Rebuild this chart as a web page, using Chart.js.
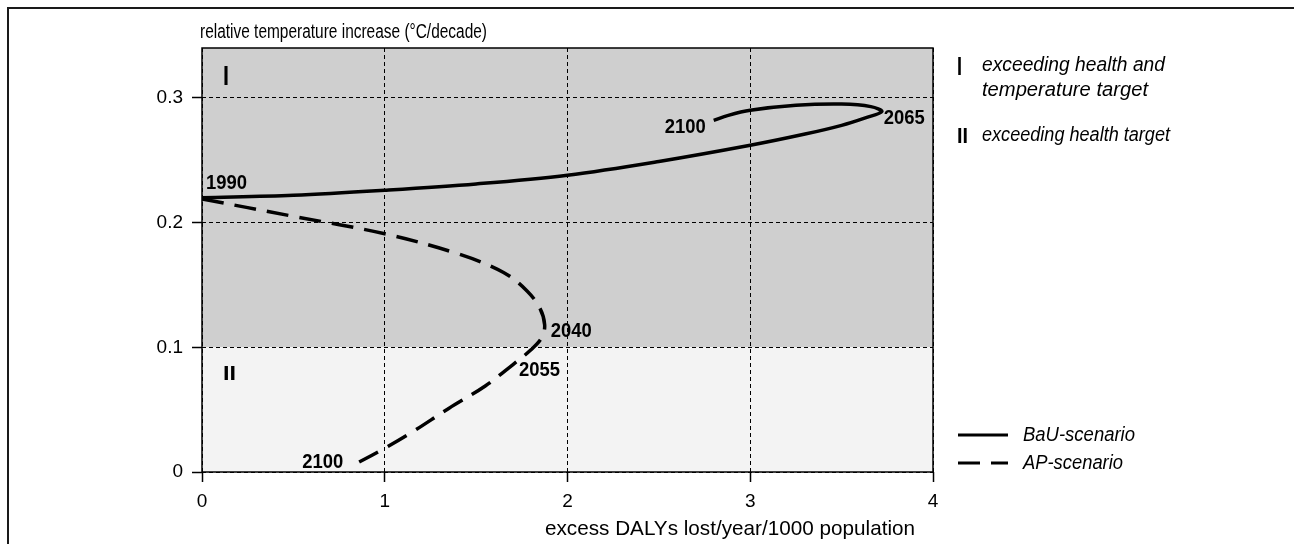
<!DOCTYPE html>
<html>
<head>
<meta charset="utf-8">
<script src="https://cdn.jsdelivr.net/npm/chart.js@4/dist/chart.umd.min.js"></script>
<style>
  html, body { margin: 0; padding: 0; background: #fff; }
  #wrap { width: 1294px; height: 544px; position: relative; }
</style>
</head>
<body>
<div id="wrap"><canvas id="c" width="1294" height="544"></canvas></div>
<script>
const FONT = "'Liberation Sans', Arial, sans-serif";

// Axis ticks
const xTickValues = [0, 1, 2, 3, 4];
const xTickLabels = ['0', '1', '2', '3', '4'];
const yTickValues = [0, 0.1, 0.2, 0.3];
const yTickLabels = ['0', '0.1', '0.2', '0.3'];

// Business-as-usual scenario: excess DALYs vs. relative temperature increase, 1990 -> 2100
const bauX = [0, 0.5, 1, 1.5, 2, 2.5, 3, 3.3, 3.5, 3.63, 3.72, 3.66, 3.5, 3.25, 3.0, 2.88, 2.8];
const bauY = [0.220, 0.222, 0.226, 0.231, 0.238, 0.249, 0.262, 0.271, 0.278, 0.284, 0.289, 0.293, 0.295, 0.294, 0.290, 0.286, 0.282];

// Abatement-policy scenario, 1990 -> 2100
const apX = [0, 0.5, 1, 1.4, 1.65, 1.78, 1.85, 1.875, 1.86, 1.8, 1.7, 1.55, 1.35, 1.15, 1.0, 0.86];
const apY = [0.219, 0.205, 0.191, 0.175, 0.160, 0.145, 0.131, 0.118, 0.108, 0.098, 0.086, 0.069, 0.051, 0.032, 0.019, 0.008];

// Year annotations attached to points on each curve
const bauYears = ['1990', '2065', '2100'];
const bauYearIdx = [0, 10, 16];
const apYears = ['2040', '2055', '2100'];
const apYearIdx = [7, 9, 15];

// Region boundary (temperature target) and region names
const tempTarget = 0.1;
const regionNames = ['I', 'II'];
const regionTexts = [['exceeding health and', 'temperature target'], ['exceeding health target']];
const seriesNames = ['BaU-scenario', 'AP-scenario'];

const yTitle = 'relative temperature increase (°C/decade)';
const xTitle = 'excess DALYs lost/year/1000 population';

const toPoints = (xs, ys) => xs.map((x, i) => ({ x: x, y: ys[i] }));

// Placement of the year annotations relative to their anchor points (px)
const bauYearPlace = [
  { dx: 4, dy: -9, align: 'left' },
  { dx: 2, dy: 12, align: 'left' },
  { dx: -8, dy: 13, align: 'right' }
];
const apYearPlace = [
  { dx: 6, dy: 12, align: 'left' },
  { dx: -12, dy: 26, align: 'left' },
  { dx: -16, dy: 6, align: 'right' }
];

// Draws text squeezed horizontally to a given width (condensed face look)
function narrowText(ctx, text, x, y, font, align, width) {
  ctx.font = font;
  const w = ctx.measureText(text).width;
  const k = width ? width / w : 1;
  ctx.save();
  ctx.translate(x, y);
  ctx.scale(k, 1);
  ctx.textAlign = align;
  ctx.fillText(text, 0, 0);
  ctx.restore();
}

const figurePlugin = {
  id: 'figure',
  beforeDraw(chart) {
    const { ctx, chartArea: a, scales } = chart;
    const yT = scales.y.getPixelForValue(tempTarget);
    ctx.save();
    // region I (above the temperature target) and region II (below)
    ctx.fillStyle = '#cfcfcf';
    ctx.fillRect(a.left, a.top, a.right - a.left, yT - a.top);
    ctx.fillStyle = '#f3f3f3';
    ctx.fillRect(a.left, yT, a.right - a.left, a.bottom - yT);
    // outer frame of the figure
    ctx.strokeStyle = '#1a1a1a';
    ctx.lineWidth = 2;
    ctx.beginPath();
    ctx.moveTo(8, 544);
    ctx.lineTo(8, 8);
    ctx.lineTo(1294, 8);
    ctx.stroke();
    ctx.restore();
  },
  beforeDatasetsDraw(chart) {
    const { ctx, chartArea: a } = chart;
    ctx.save();
    ctx.strokeStyle = '#000';
    ctx.lineWidth = 1.5;
    ctx.setLineDash([]);
    ctx.strokeRect(a.left, a.top, a.right - a.left, a.bottom - a.top);
    ctx.restore();
  },
  afterDraw(chart) {
    const { ctx, chartArea: a, scales } = chart;
    const sx = scales.x, sy = scales.y;
    ctx.save();
    ctx.fillStyle = '#000';
    ctx.textBaseline = 'alphabetic';

    // axis titles
    narrowText(ctx, yTitle, 200, 38, '20px ' + FONT, 'left', 287);
    narrowText(ctx, xTitle, 915, 535, '21px ' + FONT, 'right', 370);

    // year annotations
    const drawYears = (xs, ys, names, idx, place) => {
      names.forEach((t, k) => {
        const i = idx[k];
        const px = sx.getPixelForValue(xs[i]);
        const py = sy.getPixelForValue(ys[i]);
        narrowText(ctx, t, px + place[k].dx, py + place[k].dy, 'bold 21px ' + FONT, place[k].align, 41);
      });
    };
    drawYears(bauX, bauY, bauYears, bauYearIdx, bauYearPlace);
    drawYears(apX, apY, apYears, apYearIdx, apYearPlace);

    // region numerals inside the plot
    narrowText(ctx, regionNames[0], a.left + 21, a.top + 37, 'bold 28px ' + FONT, 'left', 6);
    narrowText(ctx, regionNames[1], sx.getPixelForValue(0) + 21,
      sy.getPixelForValue(tempTarget) + 33, 'bold 21px ' + FONT, 'left', 13);

    // region key on the right
    const kx = a.right + 24;
    narrowText(ctx, regionNames[0], kx, 75, 'bold 25px ' + FONT, 'left', 5);
    narrowText(ctx, regionNames[1], kx, 143, 'bold 22px ' + FONT, 'left', 11);
    narrowText(ctx, regionTexts[0][0], kx + 25, 71, 'italic 20px ' + FONT, 'left', 183);
    narrowText(ctx, regionTexts[0][1], kx + 25, 96, 'italic 20px ' + FONT, 'left', 166);
    narrowText(ctx, regionTexts[1][0], kx + 25, 141, 'italic 20px ' + FONT, 'left', 188);

    // line-style key
    ctx.strokeStyle = '#000';
    ctx.lineWidth = 3;
    const ly = [435, 463];
    const lw = [112, 100];
    chart.data.datasets.forEach((ds, k) => {
      ctx.setLineDash(ds.borderDash || []);
      ctx.beginPath();
      ctx.moveTo(kx + 1, ly[k]);
      ctx.lineTo(kx + 51, ly[k]);
      ctx.stroke();
      ctx.setLineDash([]);
      ctx.textBaseline = 'middle';
      narrowText(ctx, seriesNames[k], kx + 66, ly[k], 'italic 20px ' + FONT, 'left', lw[k]);
    });
    ctx.restore();
  }
};

const tickFont = { family: FONT, size: 19 };

new Chart(document.getElementById('c'), {
  type: 'scatter',
  data: {
    datasets: [
      {
        label: seriesNames[0],
        data: toPoints(bauX, bauY),
        showLine: true,
        borderColor: '#000',
        borderWidth: 3.5,
        pointRadius: 0,
        tension: 0.35,
        fill: false
      },
      {
        label: seriesNames[1],
        data: toPoints(apX, apY),
        showLine: true,
        borderColor: '#000',
        borderWidth: 3.5,
        borderDash: [22, 11],
        pointRadius: 0,
        tension: 0.35,
        fill: false
      }
    ]
  },
  options: {
    responsive: false,
    animation: false,
    devicePixelRatio: 1,
    layout: { padding: { left: 0, right: 361, top: 48, bottom: 0 } },
    plugins: { legend: { display: false }, tooltip: { enabled: false } },
    scales: {
      x: {
        type: 'linear',
        min: xTickValues[0],
        max: xTickValues[xTickValues.length - 1],
        afterBuildTicks: s => { s.ticks = xTickValues.map(v => ({ value: v })); },
        afterFit: s => { s.height = 72; },
        ticks: {
          font: tickFont, color: '#000', padding: 8, maxRotation: 0,
          callback: (v, i) => xTickLabels[i]
        },
        grid: {
          color: '#000', lineWidth: 1, tickLength: 10,
          tickColor: '#000', tickWidth: 1.5, tickBorderDash: []
        },
        border: { display: false, dash: [4, 3] }
      },
      y: {
        type: 'linear',
        min: 0,
        max: 0.34,
        afterBuildTicks: s => { s.ticks = yTickValues.map(v => ({ value: v })); },
        afterFit: s => { s.width = 202; },
        ticks: {
          font: tickFont, color: '#000', padding: 9,
          callback: (v, i) => yTickLabels[i]
        },
        grid: {
          color: '#000', lineWidth: 1, tickLength: 10,
          tickColor: '#000', tickWidth: 1.5, tickBorderDash: []
        },
        border: { display: false, dash: [4, 3] }
      }
    }
  },
  plugins: [figurePlugin]
});
</script>
</body>
</html>
